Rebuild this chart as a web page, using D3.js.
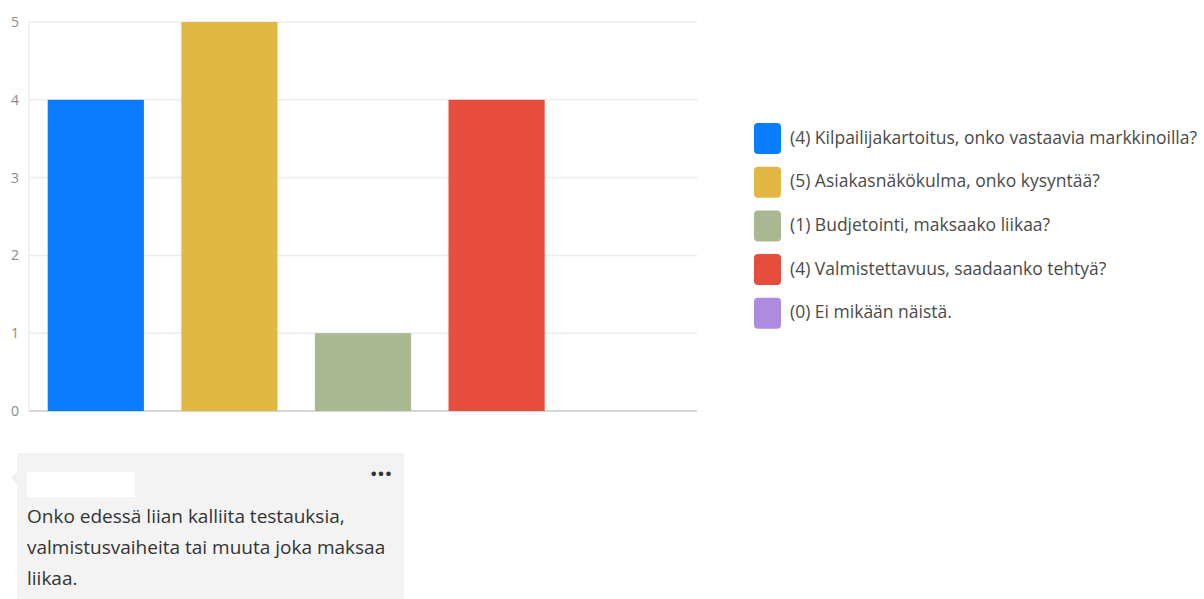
<!DOCTYPE html>
<html>
<head>
<meta charset="utf-8">
<script src="https://cdn.jsdelivr.net/npm/d3@7"></script>
<style>
  body { margin: 0; background: #fff; }
  svg { display: block; font-family: "Open Sans", "Noto Sans", sans-serif; }
</style>
</head>
<body>
<svg id="chart" width="1204" height="599"></svg>
<script>
// Data
let categories = [
    'Kilpailijakartoitus, onko vastaavia markkinoilla?',
    'Asiakasnäkökulma, onko kysyntää?',
    'Budjetointi, maksaako liikaa?',
    'Valmistettavuus, saadaanko tehtyä?',
    'Ei mikään näistä.'
];
let values = [4, 5, 1, 4, 0];
let colors = ['#0a7cff', '#e2b845', '#a9b890', '#e64d3d', '#ae8ae0'];
let yTicks = [0, 1, 2, 3, 4, 5];
let commentLines = [
    'Onko edessä liian kalliita testauksia,',
    'valmistusvaiheita tai muuta joka maksaa',
    'liikaa.'
];

let svg = d3.select('#chart');

// Scales
let x = d3.scaleBand()
    .domain(categories)
    .range([29, 697])
    .paddingInner(0.28)
    .paddingOuter(0.14);

let y = d3.scaleLinear()
    .domain([0, 5])
    .range([411, 22]);

// Grid lines
svg.append('g')
    .selectAll('line')
    .data(yTicks)
    .enter()
    .append('line')
    .attr('x1', 29)
    .attr('x2', 697)
    .attr('y1', (d) => y(d))
    .attr('y2', (d) => y(d))
    .attr('stroke', (d) => d === 0 ? '#d6d6d6' : '#ececec')
    .attr('stroke-width', (d) => d === 0 ? 2 : 1.5);

// Left axis line
svg.append('line')
    .attr('x1', 29).attr('x2', 29)
    .attr('y1', y(5)).attr('y2', y(0))
    .attr('stroke', '#ececec')
    .attr('stroke-width', 1.5);

// Y tick labels
let yAxis = svg.append('g')
    .attr('transform', 'translate(29,0)')
    .call(d3.axisLeft(y).tickValues(yTicks).tickSize(0).tickPadding(10).tickFormat(d3.format('d')));
yAxis.select('.domain').remove();
yAxis.selectAll('text')
    .attr('fill', '#8a8a8a')
    .style('font-size', '14px')
    .style('font-family', '"Open Sans", sans-serif');

// Bars
svg.append('g')
    .selectAll('rect')
    .data(values)
    .enter()
    .append('rect')
    .attr('x', (d, i) => x(categories[i]))
    .attr('y', (d) => y(d))
    .attr('width', x.bandwidth())
    .attr('height', (d) => y(0) - y(d))
    .attr('fill', (d, i) => colors[i]);

// Legend
let legend = svg.append('g')
    .attr('transform', 'translate(754,123)');

let rows = legend.selectAll('g')
    .data(categories)
    .enter()
    .append('g')
    .attr('transform', (d, i) => `translate(0,${i * 43.7})`);

rows.append('rect')
    .attr('width', 27)
    .attr('height', 31)
    .attr('rx', 4)
    .attr('fill', (d, i) => colors[i]);

rows.append('text')
    .attr('x', 36)
    .attr('y', 16)
    .attr('dominant-baseline', 'middle')
    .attr('fill', '#4a4a4a')
    .style('font-size', '17.5px')
    .text((d, i) => `(${values[i]}) ${d}`);

// Comment box
let box = svg.append('g');
box.append('rect')
    .attr('x', 17).attr('y', 453)
    .attr('width', 387).attr('height', 146)
    .attr('fill', '#f3f3f3');
box.append('path')
    .attr('d', 'M17,472 L11,478 L17,484 Z')
    .attr('fill', '#f0f0f0');
box.append('rect')
    .attr('x', 27).attr('y', 472)
    .attr('width', 108).attr('height', 25)
    .attr('fill', '#ffffff');
box.append('text')
    .attr('x', 381).attr('y', 483)
    .attr('text-anchor', 'middle')
    .attr('fill', '#333')
    .style('font-size', '26px')
    .style('font-weight', 'bold')
    .text('···');
box.selectAll('text.line')
    .data(commentLines)
    .enter()
    .append('text')
    .attr('class', 'line')
    .attr('x', 27)
    .attr('y', (d, i) => 523 + i * 31)
    .attr('fill', '#333')
    .style('font-size', '19px')
    .text((d) => d);
</script>
</body>
</html>
